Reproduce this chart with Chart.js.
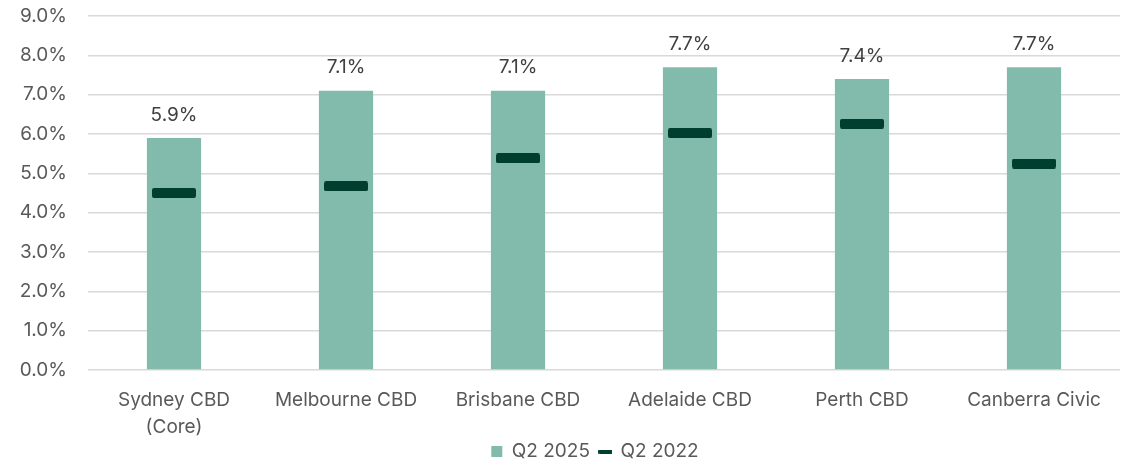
<!DOCTYPE html>
<html>
<head>
<meta charset="utf-8">
<script src="https://cdn.jsdelivr.net/npm/chart.js@4.4.1/dist/chart.umd.min.js"></script>
<style>
  html, body { margin: 0; padding: 0; background: #fff; }
  #wrap { width: 1135px; height: 465px; }
</style>
</head>
<body>
<div id="wrap"><canvas id="yieldChart"></canvas></div>
<script>
const cities = [['Sydney CBD', '(Core)'], 'Melbourne CBD', 'Brisbane CBD', 'Adelaide CBD', 'Perth CBD', 'Canberra Civic'];
const yieldQ2_2025 = [5.9, 7.1, 7.1, 7.7, 7.4, 7.7];
const yieldQ2_2022 = [4.50, 4.67, 5.38, 6.02, 6.26, 5.25];
const yTicks = [0, 1, 2, 3, 4, 5, 6, 7, 8, 9];

const barColor = '#82bbab';
const markColor = '#003f2f';
const textColor = '#595959';
const fontFamily = 'Inter, Roboto, sans-serif';

// small canvas used as the point shape for the Q2 2022 marks
function makeDash(w, h, r) {
    const c = document.createElement('canvas');
    c.width = w;
    c.height = h;
    const g = c.getContext('2d');
    g.fillStyle = markColor;
    g.beginPath();
    g.roundRect(0, 0, w, h, r);
    g.fill();
    return c;
}

const dashMark = makeDash(44, 10, 2);
const dashLegend = makeDash(14, 4, 1);

// value labels above the bars
const barLabels = {
    id: 'barLabels',
    afterDatasetsDraw(chart) {
        const ctx = chart.ctx;
        const meta = chart.getDatasetMeta(0);
        ctx.save();
        ctx.font = '19px ' + fontFamily;
        ctx.fillStyle = '#404040';
        ctx.textAlign = 'center';
        ctx.textBaseline = 'middle';
        meta.data.forEach((bar, i) => {
            ctx.fillText(yieldQ2_2025[i].toFixed(1) + '%', bar.x, bar.y - 23);
        });
        ctx.restore();
    }
};

// pull the legend up (and a touch left) so it sits closer to the axis labels
const legendLift = {
    id: 'legendLift',
    afterLayout(chart) {
        chart.legend.top -= 10;
        chart.legend.left -= 18;
    }
};

const ctx = document.getElementById('yieldChart').getContext('2d');

const yieldChart = new Chart(ctx, {
    data: {
        labels: cities,
        datasets: [{
            type: 'bar',
            label: 'Q2 2025',
            data: yieldQ2_2025,
            backgroundColor: barColor,
            borderWidth: 0,
            barPercentage: 0.63,
            categoryPercentage: 0.5,
            order: 1
        },
        {
            type: 'line',
            label: 'Q2 2022',
            data: yieldQ2_2022,
            showLine: false,
            pointStyle: dashMark,
            borderColor: markColor,
            backgroundColor: markColor,
            order: 0
        }]
    },
    options: {
        responsive: true,
        maintainAspectRatio: false,
        animation: false,
        layout: {
            padding: {top: 16, right: 15, left: 0, bottom: 0}
        },
        plugins: {
            tooltip: {enabled: false},
            legend: {
                position: 'bottom',
                fullSize: false,
                maxHeight: 23,
                labels: {
                    usePointStyle: true,
                    boxWidth: 11,
                    boxHeight: 11,
                    padding: 10,
                    color: textColor,
                    font: {family: fontFamily, size: 19},
                    generateLabels: function () {
                        return [
                            {text: 'Q2 2025', pointStyle: 'rect', fillStyle: barColor, strokeStyle: barColor, lineWidth: 0, fontColor: textColor, datasetIndex: 0},
                            {text: 'Q2 2022', pointStyle: dashLegend, fillStyle: markColor, strokeStyle: markColor, lineWidth: 0, fontColor: textColor, datasetIndex: 1}
                        ];
                    }
                }
            }
        },
        scales: {
            x: {
                grid: {display: false, drawTicks: false},
                border: {display: false},
                ticks: {
                    color: textColor,
                    padding: 17,
                    maxRotation: 0,
                    autoSkip: false,
                    font: {family: fontFamily, size: 19, lineHeight: 1.42}
                },
                afterFit: function (scale) {
                    scale.height = 72;
                }
            },
            y: {
                min: 0,
                max: 9,
                afterBuildTicks: function (scale) {
                    scale.ticks = yTicks.map(v => ({value: v}));
                },
                grid: {color: '#d9d9d9', lineWidth: 1.5, drawTicks: false},
                border: {display: false},
                ticks: {
                    color: textColor,
                    padding: 21,
                    font: {family: fontFamily, size: 19},
                    callback: v => v.toFixed(1) + '%'
                },
                afterFit: function (scale) {
                    scale.width = 88;
                    scale.paddingTop = 0;
                    scale.paddingBottom = 0;
                }
            }
        }
    },
    plugins: [barLabels, legendLift]
});
</script>
</body>
</html>
